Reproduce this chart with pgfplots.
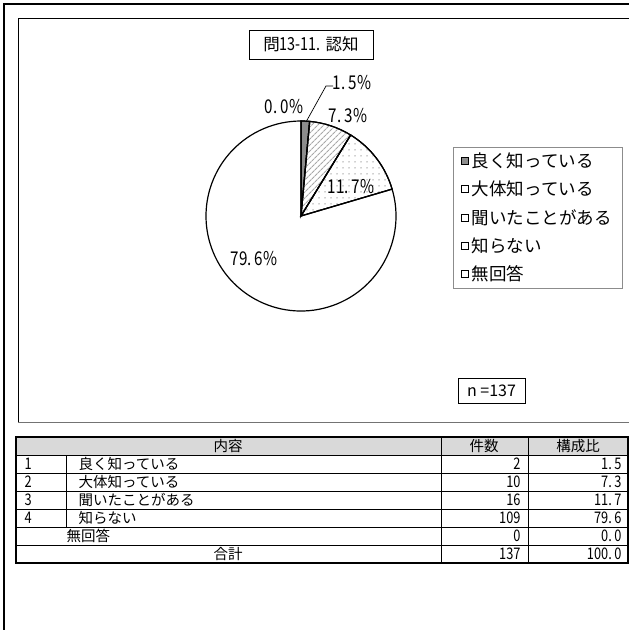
\documentclass[border=0pt]{standalone}
\usepackage{fontspec}
\setmainfont{Noto Sans CJK JP}
\newfontfamily\numfont{Noto Sans CJK JP}[FakeStretch=0.8]
\usepackage{pgfplots}
\pgfplotsset{compat=1.18}
\usetikzlibrary{patterns.meta}

\definecolor{slicegray}{HTML}{8C8C8C}
\definecolor{hatchgray}{HTML}{A8A8A8}
\definecolor{dotgray}{HTML}{A0A0A0}
\definecolor{headgray}{HTML}{D9D9D9}

% counts: 2, 10, 16, 109, 0 (total 137); #1 = cumulative count before, #2 = count
\newcommand{\pieslice}[3]{%
  \path[#3] (axis cs:0,0) -- ++({90-#1/137*360}:95pt)
    arc[start angle={90-#1/137*360}, delta angle={-#2/137*360}, radius=95pt] -- cycle;}

\newcommand{\pct}[2]{{\numfont #1.\hspace{3pt}#2\%}}
\newcommand{\tnum}[1]{{\numfont\fontsize{16}{17}\selectfont #1}}

\begin{document}
\begin{tikzpicture}
\useasboundingbox (0,0) rectangle (629pt,-630pt);
\clip (0,0) rectangle (629pt,-630pt);

\begin{scope}[x=1pt,y=-1pt]
  % frames
  \draw[line width=2.2pt] (4,4) rectangle (720,720);
  \draw[line width=0.8pt] (18,422) -- (18,18) -- (720,18);
  \draw[line width=0.9pt, black!55] (18,422) -- (720,422);

  % title and n
  \node[draw, line width=0.8pt, minimum width=124pt, minimum height=29pt, inner sep=0pt,
        font=\fontsize{16.5}{18}\selectfont] at (311,44.5) {問{\numfont\fontsize{18}{18}\selectfont 13-11.}\hspace{5pt}認知};
  \node[draw, line width=0.8pt, minimum width=67pt, minimum height=25pt, inner sep=0pt,
        font=\fontsize{16}{17}\selectfont] at (491.5,391) {n =137};

  % table
  \fill[headgray] (16,437) rectangle (628,455);
  \foreach \y in {455,473,491,509,527,545} \draw[line width=0.8pt] (16,\y) -- (628,\y);
  \draw[line width=0.8pt] (66,455) -- (66,527);
  \draw[line width=1pt] (441,437) -- (441,563);
  \draw[line width=1pt] (528,437) -- (528,563);
  \draw[line width=1.4pt] (16,437) rectangle (628,563);

  \begin{scope}[font=\fontsize{14.5}{15}\selectfont]
    \node at (228,446) {内容};
    \node at (484,446) {件数};
    \node at (578,446) {構成比};
    \foreach \y/\n/\t/\c/\p in {464/1/良く知っている/2/{1.\hspace{2.5pt}5},
                                482/2/大体知っている/10/{7.\hspace{2.5pt}3},
                                500/3/聞いたことがある/16/{11.\hspace{2.5pt}7},
                                518/4/知らない/109/{79.\hspace{2.5pt}6}} {
      \node[anchor=west] at (21,\y) {\tnum{\n}};
      \node[anchor=west] at (75,\y) {\t};
      \node[anchor=east] at (524,\y) {\tnum{\c}};
      \node[anchor=east] at (625,\y) {\tnum{\p}};
    }
    \node[anchor=west] at (63,536) {無回答};
    \node[anchor=east] at (524,536) {\tnum{0}};
    \node[anchor=east] at (625,536) {\tnum{0.\hspace{2.5pt}0}};
    \node at (228,554) {合計};
    \node[anchor=east] at (524,554) {\tnum{137}};
    \node[anchor=east] at (625,554) {\tnum{100.\hspace{2.5pt}0}};
  \end{scope}
\end{scope}

\begin{axis}[
  at={(301pt,-216pt)}, anchor=center,
  scale only axis, width=190pt, height=190pt,
  xmin=-1, xmax=1, ymin=-1, ymax=1,
  hide axis, clip=false,
  legend image code/.code={\draw[#1, line width=0.6pt] (0pt,-3.5pt) rectangle (7pt,3.5pt);},
  legend cell align={left},
  legend style={
    at={(1.3,0.865)}, anchor=north west,
    draw=black!45, line width=0.6pt,
    font=\fontsize{17.5}{19}\selectfont,
    inner xsep=8pt, inner ysep=4pt,
    row sep=8pt,
    /tikz/every odd column/.append style={column sep=1pt},
  },
]
\pieslice{0}{2}{fill=slicegray, draw=black, line width=1.2pt}
\pieslice{2}{10}{fill=white, draw=black, line width=1.2pt,
  postaction={pattern={Lines[angle=45, distance=4pt, line width=1.1pt]}, pattern color=hatchgray}}
\pieslice{12}{16}{fill=white, draw=black, line width=1.2pt,
  postaction={pattern={Dots[distance=6pt, radius=0.75pt, xshift=1pt]}, pattern color=dotgray}}
\pieslice{28}{109}{fill=white, draw=black, line width=1.2pt}
\pieslice{0}{2}{draw=black, line width=1.2pt}
\pieslice{2}{10}{draw=black, line width=1.2pt}
\pieslice{12}{16}{draw=black, line width=1.2pt}

\addlegendimage{fill=slicegray, draw=black}
\addlegendentry{良く知っている}
\addlegendimage{fill=white, draw=black}
\addlegendentry{大体知っている}
\addlegendimage{fill=white, draw=black}
\addlegendentry{聞いたことがある}
\addlegendimage{fill=white, draw=black}
\addlegendentry{知らない}
\addlegendimage{fill=white, draw=black}
\addlegendentry{無回答}
\end{axis}

% slice labels, drawn over the pie
\begin{scope}[x=1pt,y=-1pt, font=\fontsize{19}{20}\selectfont]
  \node at (352,83) {\pct{1}{5}};
  \node at (284,107) {\pct{0}{0}};
  \node at (348,116) {\pct{7}{3}};
  \node at (351,187) {\pct{11}{7}};
  \node at (254,259) {\pct{79}{6}};
  \draw[line width=0.7pt] (306,122) -- (326,86) -- (333,86);
\end{scope}
\end{tikzpicture}
\end{document}
